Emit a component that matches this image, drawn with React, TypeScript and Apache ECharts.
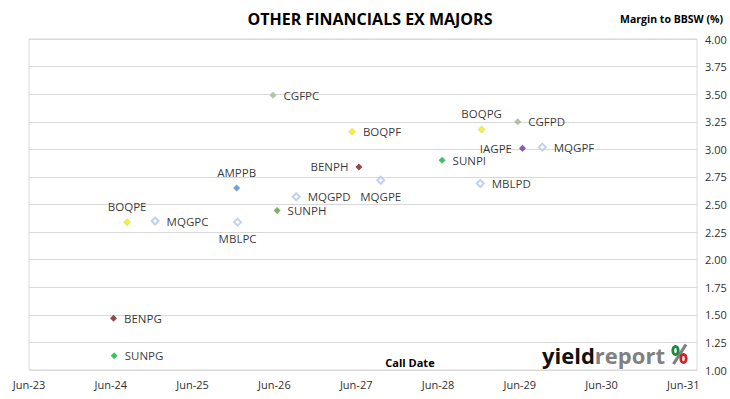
import React, { useEffect, useRef } from "react";
import * as echarts from "echarts";

// ---- data ----
const bondNames = [
  "CGFPC", "BOQPF", "BENPH", "AMPPB", "MQGPD", "BOQPG", "CGFPD", "IAGPE", "MQGPF",
  "SUNPI", "MBLPD", "MQGPE", "BOQPE", "MQGPC", "MBLPC", "SUNPH", "BENPG", "SUNPG",
];
const callDates = [
  "2026-05-25", "2027-05-13", "2027-06-13", "2025-12-15", "2026-09-07", "2028-12-13",
  "2029-05-22", "2029-06-13", "2029-09-10", "2028-06-19", "2028-12-07", "2027-09-19",
  "2024-08-13", "2024-12-16", "2025-12-19", "2026-06-13", "2024-06-13", "2024-06-16",
];
const marginsToBBSW = [
  3.49, 3.16, 2.84, 2.65, 2.57, 3.18, 3.25, 3.01, 3.02,
  2.9, 2.69, 2.72, 2.34, 2.35, 2.34, 2.445, 1.47, 1.13,
];
const yTicks = [1.0, 1.25, 1.5, 1.75, 2.0, 2.25, 2.5, 2.75, 3.0, 3.25, 3.5, 3.75, 4.0];
const xTickLabels = ["Jun-23", "Jun-24", "Jun-25", "Jun-26", "Jun-27", "Jun-28", "Jun-29", "Jun-30", "Jun-31"];

// ---- styles (not data) ----
const markerStyle: Record<string, any> = {
  CGFPC: { color: "#9fba88" },
  CGFPD: { color: "#a0b28e" },
  BOQPF: { color: "#f5f000", borderColor: "#c8c060", borderWidth: 0.6 },
  BOQPG: { color: "#f5f000", borderColor: "#c8c060", borderWidth: 0.6 },
  BOQPE: { color: "#f5f000", borderColor: "#c8c060", borderWidth: 0.6 },
  BENPH: { color: "#6e2222" },
  BENPG: { color: "#6e2222" },
  AMPPB: { color: "#4f86d1" },
  IAGPE: { color: "#7030a0" },
  SUNPI: { color: "#14b03a" },
  SUNPG: { color: "#14b03a" },
  SUNPH: { color: "#5f9e3c" },
};
const hollow = { color: "#ffffff", borderColor: "#b4c7e7", borderWidth: 2 };
const labelPos: Record<string, string> = {
  AMPPB: "top", BOQPG: "top", BOQPE: "top",
  BENPH: "left", IAGPE: "left",
  MBLPC: "bottom", MQGPE: "bottom",
};

function monthsFromJun23(d: string): number {
  const [y, m, day] = d.split("-").map(Number);
  return (y - 2023) * 12 + (m - 6) + (day - 1) / 30;
}

export default function App() {
  const ref = useRef<HTMLDivElement>(null);
  useEffect(() => {
    if (!ref.current) return;
    const chart = echarts.init(ref.current, undefined, { renderer: "svg" });
    const font = "'Open Sans', sans-serif";
    const data = bondNames.map((n, i) => {
      const pos = labelPos[n] || "right";
      return {
        name: n,
        value: [monthsFromJun23(callDates[i]), marginsToBBSW[i]],
        itemStyle: markerStyle[n] || hollow,
        label: {
          show: true,
          position: pos,
          distance: pos === "left" || pos === "right" ? 7 : 6,
          formatter: n,
          color: "#000",
          fontSize: 11.5,
          fontFamily: font,
        },
      };
    });
    chart.setOption({
      animation: false,
      backgroundColor: "#ffffff",
      grid: {
        left: 29,
        right: 33,
        top: 39,
        bottom: 29,
        show: true,
        borderColor: "#d9d9d9",
        borderWidth: 1,
      },
      xAxis: {
        type: "value",
        min: 0,
        max: 98,
        interval: 12,
        axisLine: { show: false },
        axisTick: { show: false },
        splitLine: { show: false },
        axisLabel: {
          showMaxLabel: false,
          margin: 9,
          color: "#303030",
          fontSize: 11,
          fontFamily: font,
          formatter: (v: number) => (v % 12 === 0 ? xTickLabels[v / 12] || "" : ""),
        },
      },
      yAxis: {
        type: "value",
        position: "right",
        min: yTicks[0],
        max: yTicks[yTicks.length - 1],
        interval: 0.25,
        axisLine: { show: false },
        axisTick: { show: true, length: 4, lineStyle: { color: "#d9d9d9" } },
        splitLine: { lineStyle: { color: "#d9d9d9", width: 1 } },
        axisLabel: {
          margin: 8,
          color: "#303030",
          fontSize: 11,
          fontFamily: font,
          formatter: (v: number) => v.toFixed(2),
        },
      },
      graphic: [
        {
          type: "text",
          x: 370,
          y: 19,
          style: {
            text: "OTHER FINANCIALS EX MAJORS",
            fill: "#000",
            font: `bold 16px ${font}`,
            textAlign: "center",
            textVerticalAlign: "middle",
          },
        },
        {
          type: "text",
          x: 723,
          y: 19,
          style: {
            text: "Margin to BBSW (%)",
            fill: "#000",
            font: `bold 10.5px ${font}`,
            textAlign: "right",
            textVerticalAlign: "middle",
          },
        },
        {
          type: "text",
          x: 410,
          y: 362,
          style: {
            text: "Call Date",
            fill: "#000",
            font: `bold 11px ${font}`,
            textAlign: "center",
            textVerticalAlign: "middle",
          },
        },
        {
          type: "text",
          x: 542,
          y: 355,
          style: {
            text: "{a|yield}{b|report}",
            textVerticalAlign: "middle",
            rich: {
              a: { fill: "#111111", font: `bold 22px ${font}` },
              b: { fill: "#808080", font: `bold 22px ${font}` },
            },
          },
        },
        {
          type: "line",
          shape: { x1: 686, y1: 344.5, x2: 673.5, y2: 364 },
          style: { stroke: "#808080", lineWidth: 3.2 },
        },
        {
          type: "ellipse",
          shape: { cx: 675.5, cy: 350.5, rx: 2.7, ry: 4.1 },
          style: { fill: "none", stroke: "#1a8a3a", lineWidth: 2.8 },
        },
        {
          type: "ellipse",
          shape: { cx: 683.5, cy: 358.5, rx: 2.7, ry: 4.1 },
          style: { fill: "none", stroke: "#d0202a", lineWidth: 2.8 },
        },
      ],
      series: [
        {
          type: "scatter",
          symbol: "diamond",
          symbolSize: 7,
          data,
        },
      ],
    });
    return () => chart.dispose();
  }, []);
  return (
    <div
      ref={ref}
      style={{ position: "fixed", left: 0, top: 0, width: 730, height: 399, background: "#fff" }}
    />
  );
}
